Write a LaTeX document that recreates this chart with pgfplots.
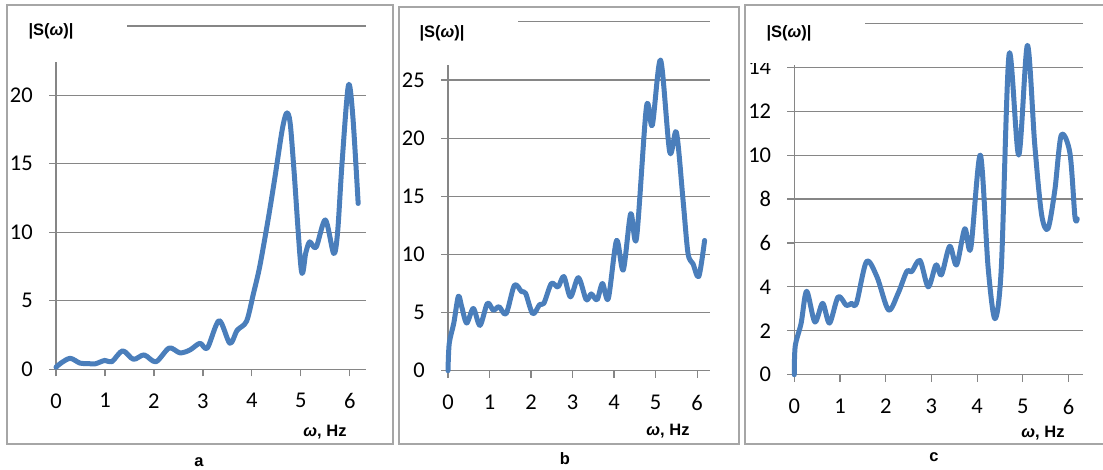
\documentclass[border=0pt]{standalone}
\usepackage{pgfplots}
\pgfplotsset{compat=1.18}
\usepackage{fontspec}
\setmainfont{Liberation Sans}
\newfontfamily\carl{Carlito}
\definecolor{serblue}{RGB}{74,126,187}
\definecolor{axgray}{RGB}{134,134,134}
\definecolor{frgray}{RGB}{166,166,166}
\pgfplotsset{
  panel/.style={
    scale only axis, anchor=origin, clip=false,
    xmin=0, ymin=0,
    axis lines*=left,
    axis line style={axgray, line width=1.2pt},
    every tick/.style={axgray, line width=1.2pt},
    tick align=outside, major tick length=7pt,
    ymajorgrids, grid style={axgray, line width=1.1pt},
    xtick={0,1,2,3,4,5,6},
    /pgf/number format/assume math mode=true,
    ticklabel style={font=\carl\fontsize{22.5}{22.5}\selectfont, inner sep=0pt},
    yticklabel style={anchor=east, xshift=-16pt},
    xticklabel style={anchor=north, yshift=-17pt},
  },
  curve/.style={serblue, line width=5pt, smooth, line join=round, line cap=round, no marks},
}
\newcommand{\blab}{\bfseries\fontsize{16.5}{16.5}\selectfont}
\begin{document}
\begin{tikzpicture}[x=1pt, y=-1pt]
\useasboundingbox (0,0) rectangle (1103,470);
% frames
\draw[frgray, line width=1.5pt] (7,5) rectangle (393,444);
\draw[frgray, line width=1.5pt] (399,7) rectangle (739,444);
\draw[frgray, line width=1.5pt] (745,5) rectangle (1115,444);
% legend-like lines
\draw[axgray, line width=1.2pt] (127,26) -- (366,26);
\draw[axgray, line width=1.2pt] (518,21.7) -- (710,21.7);
\draw[axgray, line width=1.2pt] (865,23.7) -- (1083,23.7);

% panel a
\begin{axis}[panel, at={(56pt,-369.3pt)}, width=310pt, height=307pt,
  xmax=6.33, ymax=22.4, ytick={0,5,10,15,20}]
\addplot[curve] coordinates {
(0.0,0.15) (0.1,0.45) (0.29,0.8) (0.49,0.45) (0.65,0.42) (0.8,0.4)
(1.0,0.65) (1.14,0.55) (1.36,1.35) (1.58,0.73) (1.8,1.05) (2.04,0.55)
(2.31,1.55) (2.53,1.2) (2.73,1.4) (2.94,1.9) (3.09,1.55) (3.33,3.55)
(3.55,1.9) (3.7,2.85) (3.89,3.5) (4.03,5.5) (4.16,7.5) (4.33,10.9)
(4.47,14.0) (4.62,17.5) (4.71,18.7) (4.78,18.0) (4.86,14.5) (5.01,7.2)
(5.1,8.5) (5.18,9.3) (5.31,8.9) (5.5,10.9) (5.67,8.45) (5.75,10.0)
(5.84,15.0) (5.97,20.7) (6.06,18.5) (6.17,12.1)
};
\end{axis}

% panel b
\begin{axis}[panel, at={(448pt,-370.7pt)}, width=262pt, height=305.4pt,
  xmax=6.31, ymax=26.26, ytick={0,5,10,15,20,25}]
\addplot[curve] coordinates {
(0.0,0.0) (0.03,2.35) (0.14,4.1) (0.25,6.4) (0.33,5.5) (0.45,4.1)
(0.61,5.35) (0.77,3.9) (0.95,5.8) (1.09,5.2) (1.23,5.5) (1.4,4.9)
(1.6,7.35) (1.77,6.8) (1.87,6.65) (2.04,4.9) (2.21,5.7) (2.31,5.8)
(2.49,7.5) (2.65,7.2) (2.79,8.1) (2.95,6.35) (3.14,8.0) (3.33,6.1)
(3.45,6.6) (3.59,6.1) (3.72,7.5) (3.86,6.2) (4.06,11.2) (4.22,8.65)
(4.4,13.5) (4.54,11.4) (4.78,22.7) (4.92,21.1) (5.12,26.7) (5.34,18.8)
(5.5,20.5) (5.66,14.7) (5.78,10.1) (5.9,9.2) (6.04,8.1) (6.18,11.2)
};
\end{axis}

% panel c
\begin{axis}[panel, at={(794.3pt,-374.7pt)}, width=288.4pt, height=309.4pt,
  xmax=6.31, ymax=14.09, ytick={0,2,4,6,8,10,12,14}]
\addplot[curve] coordinates {
(0.0,0.0) (0.02,1.3) (0.15,2.35) (0.27,3.8) (0.45,2.4) (0.62,3.25)
(0.77,2.35) (0.96,3.55) (1.14,3.15) (1.25,3.25) (1.36,3.25) (1.58,5.15)
(1.81,4.45) (2.06,2.95) (2.27,3.7) (2.46,4.7) (2.57,4.7) (2.75,5.2)
(2.93,4.0) (3.1,5.0) (3.22,4.55) (3.4,5.85) (3.55,5.0) (3.73,6.65)
(3.86,5.75) (4.07,10.0) (4.24,4.9) (4.39,2.55) (4.53,4.9) (4.7,14.6)
(4.91,10.0) (5.1,15.0) (5.26,10.5) (5.41,7.3) (5.55,6.65) (5.7,8.4)
(5.84,10.9) (6.03,10.1) (6.14,7.2) (6.19,7.1)
};
\end{axis}
\fill[white] (750,50) rectangle (786,63);

% labels
\node[font=\blab] at (51,31) {|S(\textit{ω})|};
\node[font=\blab] at (442,33) {|S(\textit{ω})|};
\node[font=\blab] at (789,33) {|S(\textit{ω})|};
\node[font=\blab] at (325,432) {\textit{ω}, Hz};
\node[font=\blab] at (668,431) {\textit{ω}, Hz};
\node[font=\blab] at (1043,433) {\textit{ω}, Hz};
\node[font=\blab] at (199,462) {a};
\node[font=\blab] at (565,459) {b};
\node[font=\blab] at (934,457) {c};
\end{tikzpicture}
\end{document}
